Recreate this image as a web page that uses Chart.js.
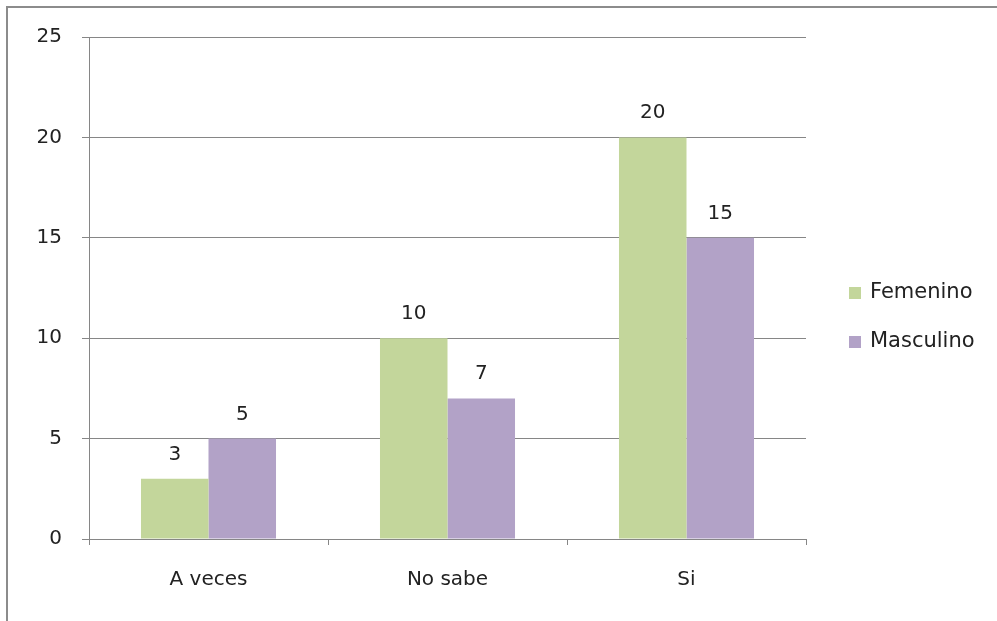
<!DOCTYPE html>
<html lang="es">
<head>
    <meta charset="UTF-8">
    <title>Respuestas por sexo</title>
    <script src="https://cdn.jsdelivr.net/npm/chart.js"></script>
</head>
<style>
    body {
        margin: 0;
        padding: 0;
        background: #ffffff;
        overflow: hidden;
    }

    /* marco del grafico */
    .marco {
        position: absolute;
        left: 6px;
        top: 6px;
        width: 989px;
        height: 613px;
        border-left: 2px solid #8c8c8c;
        border-top: 2px solid #8c8c8c;
    }

    canvas {
        display: block;
    }
</style>
<body>
    <div class="marco">
        <canvas id="grafico" width="989" height="613"></canvas>
    </div>

    <script>
        const categorias = ['A veces', 'No sabe', 'Si'];
        const femenino = [3, 10, 20];
        const masculino = [5, 7, 15];
        const marcasY = [0, 5, 10, 15, 20, 25];

        const colorFem = '#c3d69b';
        const colorMas = '#b2a2c7';
        const gris = '#868686';
        const fuente = "'DejaVu Sans', sans-serif";

        // etiquetas con el valor encima de cada barra
        const valoresBarras = {
            id: 'valoresBarras',
            afterDatasetsDraw(chart) {
                const ctx = chart.ctx;
                ctx.save();
                ctx.font = '20px ' + fuente;
                ctx.fillStyle = '#222';
                ctx.textAlign = 'center';
                ctx.textBaseline = 'alphabetic';
                chart.data.datasets.forEach((ds, i) => {
                    chart.getDatasetMeta(i).data.forEach((barra, j) => {
                        ctx.fillText(String(ds.data[j]), barra.x, barra.y - 19);
                    });
                });
                ctx.restore();
            }
        };

        // leyenda a la derecha
        const leyenda = {
            id: 'leyenda',
            afterDraw(chart) {
                const ctx = chart.ctx;
                ctx.save();
                ctx.font = '21px ' + fuente;
                ctx.textBaseline = 'middle';
                ctx.textAlign = 'left';
                chart.data.datasets.forEach((ds, i) => {
                    const y = 285 + i * 49;
                    ctx.fillStyle = ds.backgroundColor;
                    ctx.fillRect(841, y - 6, 12, 12);
                    ctx.fillStyle = '#222';
                    ctx.fillText(ds.label, 862, y);
                });
                ctx.restore();
            }
        };

        const ctx = document.getElementById('grafico').getContext('2d');
        new Chart(ctx, {
            type: 'bar',
            data: {
                labels: categorias,
                datasets: [
                    {
                        label: 'Femenino',
                        data: femenino,
                        backgroundColor: colorFem,
                        categoryPercentage: 0.565,
                        barPercentage: 1
                    },
                    {
                        label: 'Masculino',
                        data: masculino,
                        backgroundColor: colorMas,
                        categoryPercentage: 0.565,
                        barPercentage: 1
                    }
                ]
            },
            options: {
                responsive: false,
                animation: false,
                layout: {
                    padding: { top: 29, right: 191, bottom: 0, left: 0 }
                },
                plugins: {
                    legend: { display: false },
                    tooltip: { enabled: false }
                },
                scales: {
                    x: {
                        afterFit: (s) => { s.height = 82; },
                        grid: {
                            offset: true,
                            drawOnChartArea: false,
                            drawTicks: true,
                            tickLength: 6,
                            color: gris
                        },
                        border: { display: true, color: gris },
                        ticks: {
                            color: '#222',
                            padding: 23,
                            font: { family: fuente, size: 20 }
                        }
                    },
                    y: {
                        min: 0,
                        max: 25,
                        afterFit: (s) => {
                            s.width = 81;
                            s.paddingTop = 0;
                            s.paddingBottom = 0;
                        },
                        afterBuildTicks: (s) => {
                            s.ticks = marcasY.map(v => ({ value: v }));
                        },
                        grid: {
                            color: gris,
                            tickLength: 7
                        },
                        border: { display: true, color: gris },
                        ticks: {
                            color: '#222',
                            padding: 20,
                            font: { family: fuente, size: 20 }
                        }
                    }
                }
            },
            plugins: [valoresBarras, leyenda]
        });
    </script>
</body>
</html>
